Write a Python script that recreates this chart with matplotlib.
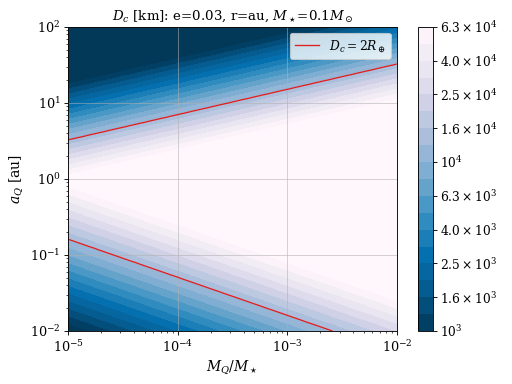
import numpy as np
import matplotlib
matplotlib.use('Agg')
import matplotlib.pyplot as plt
import matplotlib.tri as mtri
from matplotlib.ticker import FuncFormatter

plt.rcParams['font.family'] = 'serif'
plt.rcParams['font.serif'] = ['DejaVu Serif']
plt.rcParams['mathtext.fontset'] = 'dejavuserif'
plt.rcParams['font.size'] = 11.5

# log10(D_c / km): domain corners + ridge at a_Q ~ 1 au
M_Q = [1e-5, 1e-2, 1e-5, 1e-2, 1e-5, 1e-2]
a_Q = [1e2, 1e2, 0.98, 0.98, 1e-2, 1e-2]
logD = [1.87, 3.37, 4.89, 6.39, 2.90, 4.40]
cells = [[0, 1, 3], [0, 3, 2], [2, 3, 5], [2, 5, 4]]

levels = np.round(np.arange(3.0, 4.81, 0.1), 1)
cbar_ticks = levels[::2]
D_target = 2 * 6371.0  # 2 R_earth in km


def fmt(v, pos):
    e = int(np.floor(v + 1e-9))
    m = 10 ** (v - e)
    if abs(m - 1) < 0.01:
        return r'$10^{%d}$' % e
    return r'$%.1f\times10^{%d}$' % (m, e)


# triangulate in log space, refine linearly, then go back to data space
tri = mtri.Triangulation(np.log10(M_Q), np.log10(a_Q), cells)
z0 = np.array(logD)
fine, z = mtri.UniformTriRefiner(tri).refine_field(
    z0, mtri.LinearTriInterpolator(tri, z0), subdiv=5)
fine = mtri.Triangulation(10 ** fine.x, 10 ** fine.y, fine.triangles)

fig = plt.figure(figsize=(6.4, 4.8), dpi=80)
ax = fig.add_axes([0.133, 0.138, 0.642, 0.792])
cax = fig.add_axes([0.816, 0.138, 0.029, 0.792])

cs = ax.tricontourf(fine, z, levels=levels, cmap='PuBu_r', extend='both')
ax.tricontour(fine, z, levels=[np.log10(D_target)], colors='#e02020', linewidths=1.2)
ax.plot([], [], '-', color='#e02020', lw=1.2, label=r'$D_c = 2R_\oplus$')

ax.set_xscale('log')
ax.set_yscale('log')
ax.set_xlim(1e-5, 1e-2)
ax.set_ylim(1e-2, 1e2)
ax.grid(True, which='major', alpha=0.6)
ax.set_xlabel(r'$M_Q/M_\star$', fontsize=12.5)
ax.set_ylabel(r'$a_Q$ [au]', fontsize=12.5)
ax.set_title(r'$D_c$ [km]: e=0.03, r=au, $M_\star$=0.1$M_\odot$', fontsize=12)
ax.legend(loc='upper right', fontsize=11)

cb = fig.colorbar(cs, cax=cax, ticks=cbar_ticks, extendfrac=0)
cb.ax.yaxis.set_major_formatter(FuncFormatter(fmt))
cb.ax.tick_params(labelsize=11)

fig.savefig('out.png', dpi=80)
